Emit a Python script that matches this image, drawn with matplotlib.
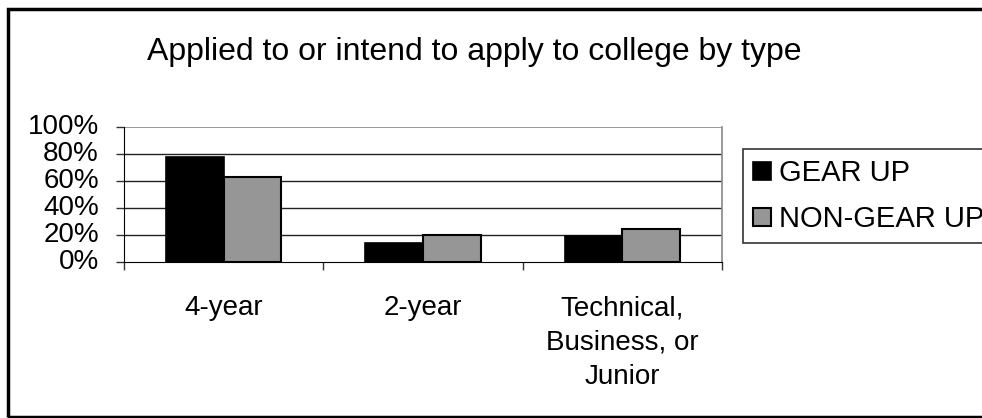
import matplotlib
matplotlib.use("Agg")
import matplotlib.pyplot as plt
from matplotlib.patches import Rectangle
import numpy as np

plt.rcParams['font.family'] = ['Liberation Sans', 'DejaVu Sans']

categories = ["4-year", "2-year", "Technical,\nBusiness, or\nJunior"]
gear_up = [78, 14, 19]
non_gear_up = [63, 20, 24]
series_names = ["GEAR UP", "NON-GEAR UP"]
yticks = [0, 20, 40, 60, 80, 100]

W, H = 982, 418
fig = plt.figure(figsize=(W / 100, H / 100), dpi=100)
ax = fig.add_axes([124 / W, 1 - 261.7 / H, (722 - 124) / W, (261.7 - 127.3) / H])

x = np.arange(len(categories)) + 0.5
bw = 0.29
ax.bar(x - bw / 2, gear_up, bw, color='black', edgecolor='black', linewidth=1.2,
       label=series_names[0], zorder=3)
ax.bar(x + bw / 2, non_gear_up, bw, color='#969696', edgecolor='black', linewidth=1.5,
       label=series_names[1], zorder=3)

ax.set_xlim(0, 3)
ax.set_ylim(0, 100)
ax.set_yticks(yticks)
ax.set_yticklabels([f"{v}%" for v in yticks])
for v in yticks[1:-1]:
    ax.axhline(v, color='#222222', lw=1.0, zorder=1)
ax.axhline(100, color='#888888', lw=1.2, zorder=1)

ax.set_xticks([0, 1, 2, 3])
ax.set_xticklabels([])
ax.set_xticks(x, minor=True)
ax.set_xticklabels(categories, minor=True, fontsize=20, linespacing=1.42, va='top')
ax.tick_params(axis='x', which='minor', length=0, pad=24)
ax.tick_params(axis='x', which='major', length=6, width=1, color='#333333', direction='out')
ax.tick_params(axis='y', length=6, width=1, color='#333333', direction='out', labelsize=20, pad=12)
for lbl in ax.get_yticklabels():
    lbl.set_verticalalignment('center')

ax.spines['top'].set_visible(False)
ax.spines['right'].set_color('#888888')
ax.spines['right'].set_linewidth(1.2)
ax.spines['left'].set_color('black')
ax.spines['bottom'].set_color('black')

fig.text(474 / W, 1 - 52 / H, "Applied to or intend to apply to college by type",
         ha='center', va='center', fontsize=23)

leg = fig.legend(loc='upper left', bbox_to_anchor=(743 / W, 1 - 149 / H),
                 fontsize=21, frameon=True, fancybox=False, edgecolor='black',
                 handlelength=0.6, handleheight=0.6, handletextpad=0.3,
                 labelspacing=0.62, borderpad=0.35, borderaxespad=0)
leg.get_frame().set_linewidth(1.2)

fig.patches.append(Rectangle((8 / W, 1 - 417 / H), 1.2, (417 - 9) / H,
                             transform=fig.transFigure, fill=False,
                             edgecolor='black', lw=2.5, clip_on=False))

fig.savefig("out.png", dpi=100)
